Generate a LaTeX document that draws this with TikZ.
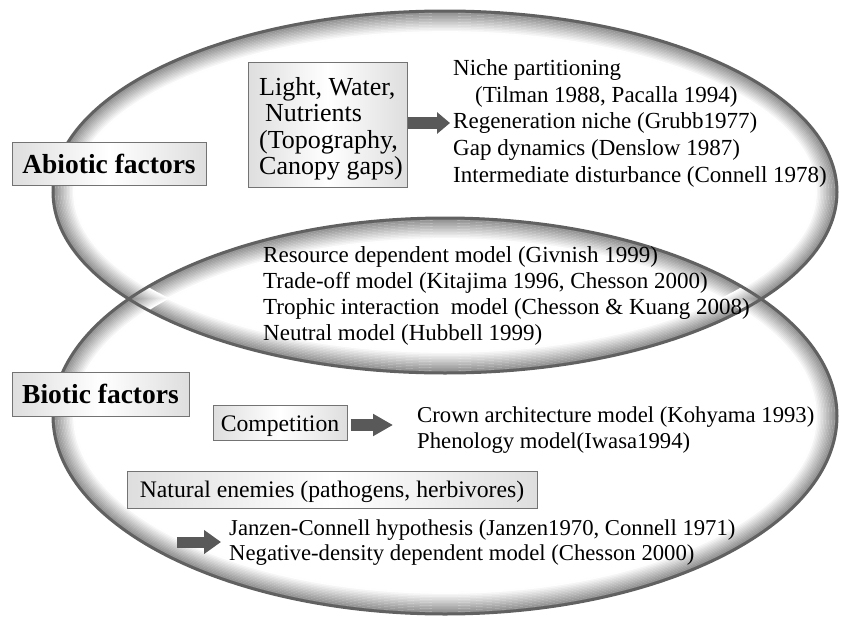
\documentclass[tikz,border=0pt]{standalone}
\usepackage{fontspec}
\setmainfont{Liberation Serif}
\usetikzlibrary{arrows.meta}
\begin{document}
\begin{tikzpicture}[x=1pt,y=-1pt,
  txt/.style={anchor=base west, inner sep=0pt, font=\fontsize{23}{27}\selectfont},
  txtb/.style={anchor=base west, inner sep=0pt, font=\fontsize{22.7}{27}\selectfont},
  boxtxt/.style={anchor=base west, inner sep=0pt, font=\fontsize{26}{27}\selectfont},
  lbox/.style={draw=black!55, line width=1pt, left color=black!13, right color=black!13, middle color=white, inner sep=0pt},
  titlebox/.style={lbox, font=\fontsize{27.5}{30}\selectfont\bfseries, text depth=0pt},
  smallbox/.style={lbox, font=\fontsize{23.7}{27}\selectfont, text depth=0pt},
  blockarrow/.style={draw=black!65, line width=12pt},
  rim/.style={draw=black!62, line width=3pt}
]
\useasboundingbox[fill=white] (0,0) rectangle (841,624);
\coordinate (ct) at (445,192);
\coordinate (cb) at (445,416);
% inner glow of the two ellipses
\foreach \k in {1,...,14}{
  \pgfmathsetmacro\c{48-3.4*\k}
  \draw[line width=1.7pt, draw=black!\c] (ct) ellipse ({392-1.5*\k} and {181-1.5*\k});
  \draw[line width=1.7pt, draw=black!\c] (cb) ellipse ({392-1.5*\k} and {198-1.5*\k});
}
\draw[rim] (ct) ellipse (392 and 181);
\draw[rim] (cb) ellipse (392 and 198);

% Abiotic
\node[titlebox, minimum width=194pt, minimum height=43pt, text height=19pt] (abiotic) at (109,163.5) {Abiotic factors};
\node[lbox, minimum width=159pt, minimum height=125pt] (lightbox) at (327.5,124.5) {};
\node[boxtxt] (l1) at (259,95) {Light, Water,};
\node[boxtxt] (l2) at (265,121.5) {Nutrients};
\node[boxtxt] (l3) at (259,148) {(Topography,};
\node[boxtxt] (l4) at (259,174.5) {Canopy gaps)};

\node[txt] (n1) at (453,75) {Niche partitioning};
\node[txt] (n2) at (475,102) {(Tilman 1988, Pacalla 1994)};
\node[txt] (n3) at (453,128) {Regeneration niche (Grubb1977)};
\node[txt] (n4) at (453,155) {Gap dynamics (Denslow 1987)};
\node[txt] (n5) at (453,182) {Intermediate disturbance (Connell 1978)};
\coordinate (a1s) at (lightbox.east |- 0,123);
\coordinate (a1e) at (450,123);
\draw[blockarrow, -{Triangle[length=13pt, width=21pt]}] (a1s) -- (a1e);

% shared
\node[txt] (m1) at (263,262) {Resource dependent model (Givnish 1999)};
\node[txt] (m2) at (263,288) {Trade-off model (Kitajima 1996, Chesson 2000)};
\node[txt] (m3) at (263,314) {Trophic interaction\ \ model (Chesson \& Kuang 2008)};
\node[txt] (m4) at (263,340) {Neutral model (Hubbell 1999)};

% Biotic
\node[titlebox, minimum width=177pt, minimum height=44pt, text height=18pt] (biotic) at (100.5,394) {Biotic factors};
\node[smallbox, minimum width=134pt, minimum height=35pt, text height=18pt] (comp) at (280,422.5) {Competition};
\node[txtb] (c1) at (417,422) {Crown architecture model (Kohyama 1993)};
\node[txtb] (c2) at (417,448) {Phenology model(Iwasa1994)};
\coordinate (a2s) at ([xshift=3pt]comp.east |- 0,425);
\coordinate (a2e) at (393,425);
\draw[blockarrow, -{Triangle[length=20pt, width=21pt]}] (a2s) -- (a2e);

\node[smallbox, minimum width=410pt, minimum height=37pt, text height=15pt] (enemy) at (332,489.5) {Natural enemies (pathogens, herbivores)};
\node[txtb] (j1) at (229,535) {Janzen-Connell hypothesis (Janzen1970, Connell 1971)};
\node[txtb] (j2) at (229,560) {Negative-density dependent model (Chesson 2000)};
\coordinate (a3s) at (177,542);
\coordinate (a3e) at (221,542);
\draw[blockarrow, line width=11pt, -{Triangle[length=17pt, width=23pt]}] (a3s) -- (a3e);
\end{tikzpicture}
\end{document}
